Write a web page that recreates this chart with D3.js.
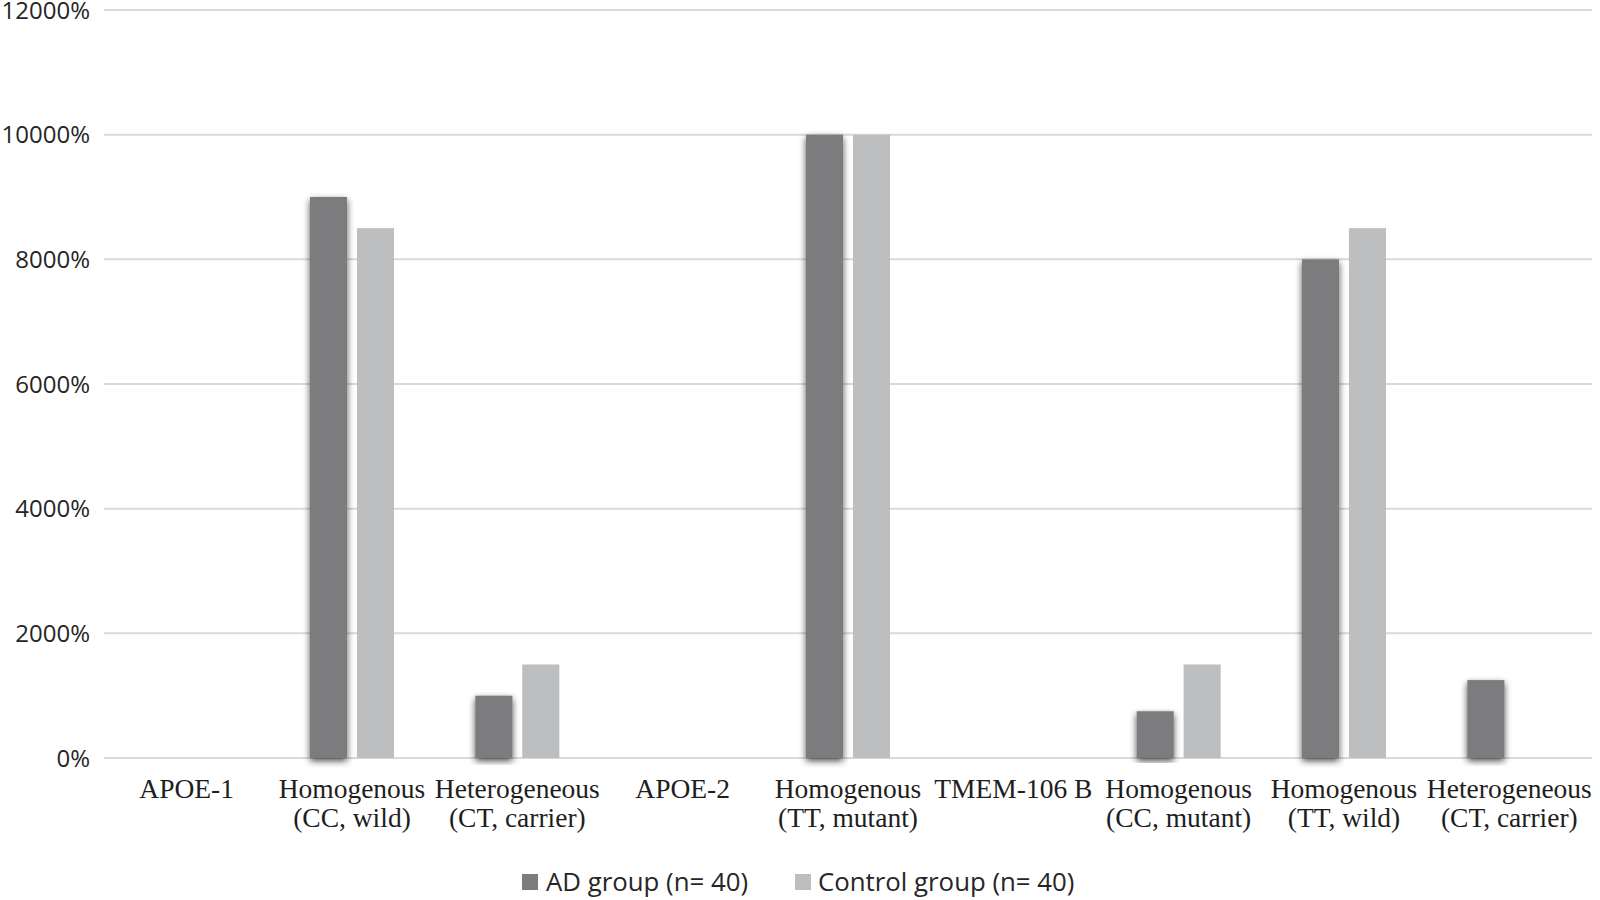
<!DOCTYPE html>
<html><head><meta charset="utf-8">
<script src="https://cdn.jsdelivr.net/npm/d3@7"></script>
<style>html,body{margin:0;padding:0;background:#fff;}</style>
</head><body>
<svg id="chart" width="1600" height="900"></svg>
<script>
const categories = ["APOE-1", "Homogenous\n(CC, wild)", "Heterogeneous\n(CT, carrier)", "APOE-2", "Homogenous\n(TT, mutant)", "TMEM-106 B", "Homogenous\n(CC, mutant)", "Homogenous\n(TT, wild)", "Heterogeneous\n(CT, carrier)"];
const seriesNames = ["AD group (n= 40)", "Control group (n= 40)"];
const adValues = [null, 9000, 1000, null, 10000, null, 750, 8000, 1250];
const controlValues = [null, 8500, 1500, null, 10000, null, 1500, 8500, 0];
const yTicks = [0, 2000, 4000, 6000, 8000, 10000, 12000];
const colors = ["#7b7c7e", "#bdbec0"];

const svg = d3.select("#chart");
const plotLeft = 104, plotRight = 1592, plotTop = 10, plotBottom = 758;

const x0 = d3.scaleBand().domain(d3.range(categories.length)).range([plotLeft, plotRight]).padding(0);
const groupW = 84;
const x1 = d3.scaleBand().domain([0, 1]).range([0, groupW]).paddingInner(0.21);
const y = d3.scaleLinear().domain([0, 12000]).range([plotBottom, plotTop]);

const defs = svg.append("defs");
const f = defs.append("filter").attr("id", "shadow").attr("x", "-50%").attr("y", "-10%").attr("width", "200%").attr("height", "120%");
f.append("feGaussianBlur").attr("in", "SourceAlpha").attr("stdDeviation", 3.5).attr("result", "b");
f.append("feOffset").attr("in", "b").attr("dy", 3).attr("result", "o");
f.append("feComponentTransfer").attr("in", "o").attr("result", "s")
  .append("feFuncA").attr("type", "linear").attr("slope", 0.7);
const m = f.append("feMerge");
m.append("feMergeNode").attr("in", "s");
m.append("feMergeNode").attr("in", "SourceGraphic");

// gridlines
svg.append("g").selectAll("line").data(yTicks).join("line")
  .attr("x1", plotLeft).attr("x2", plotRight)
  .attr("y1", d => y(d)).attr("y2", d => y(d))
  .attr("stroke", "#d9d9d9").attr("stroke-width", 2);

// y labels
svg.append("g").selectAll("text").data(yTicks).join("text")
  .attr("x", 90).attr("y", d => y(d)).attr("dy", "0.36em")
  .attr("text-anchor", "end")
  .attr("font-family", "Open Sans").attr("font-size", 24).attr("fill", "#262626")
  .text(d => d + "%");

// bars
const series = [adValues, controlValues];
series.forEach((vals, si) => {
  const g = svg.append("g");
  g.selectAll("rect").data(vals.map((v, i) => ({v, i})).filter(d => d.v !== null && d.v > 0)).join("rect")
    .attr("x", d => x0(d.i) + (x0.bandwidth() - groupW) / 2 + x1(si))
    .attr("width", x1.bandwidth())
    .attr("y", d => y(d.v))
    .attr("height", d => y(0) - y(d.v))
    .attr("fill", colors[si])
    .attr("filter", si === 0 ? "url(#shadow)" : null);
});

// x labels
const xl = svg.append("g");
categories.forEach((c, i) => {
  const lines = c.split("\n");
  const t = xl.append("text")
    .attr("text-anchor", "middle")
    .attr("font-family", "Liberation Serif").attr("font-size", 27.5).attr("fill", "#1e1e1e");
  lines.forEach((ln, j) => {
    t.append("tspan").attr("x", x0(i) + x0.bandwidth() / 2).attr("y", 798 + j * 29).text(ln);
  });
});

// legend
const legendItems = [{x: 522, tx: 546}, {x: 795, tx: 818}];
legendItems.forEach((it, i) => {
  svg.append("rect").attr("x", it.x).attr("y", 874).attr("width", 16).attr("height", 16).attr("fill", colors[i]);
  svg.append("text").attr("x", it.tx).attr("y", 882).attr("dy", "0.36em")
    .attr("font-family", "Open Sans").attr("font-size", 25.8).attr("fill", "#262626")
    .text(seriesNames[i]);
});
</script>
</body></html>
